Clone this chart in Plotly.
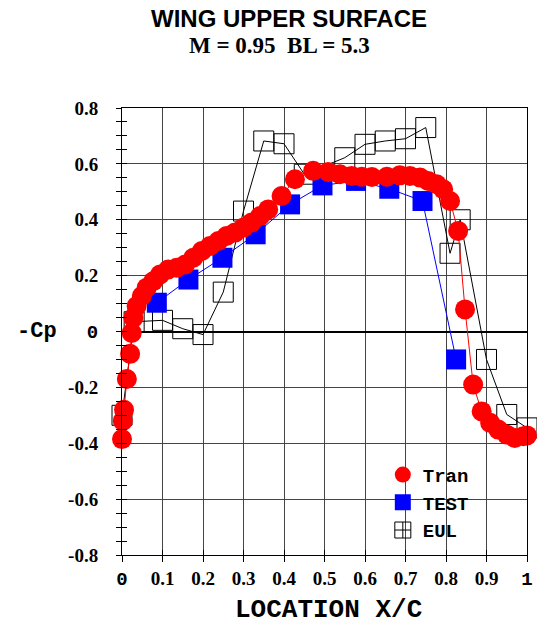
import plotly.graph_objects as go

# Transonic code prediction (Tran)
tran_x = [0.0, 0.002, 0.005, 0.012, 0.02, 0.024, 0.028, 0.036, 0.049, 0.061,
          0.077, 0.094, 0.114, 0.135, 0.156, 0.176, 0.197, 0.217, 0.238, 0.258,
          0.279, 0.30, 0.32, 0.341, 0.361, 0.394, 0.427, 0.472, 0.509, 0.538,
          0.567, 0.592, 0.617, 0.654, 0.686, 0.711, 0.736, 0.756, 0.777, 0.793,
          0.81, 0.83, 0.847, 0.867, 0.888, 0.909, 0.929, 0.95, 0.97, 0.991, 1.0]
tran_y = [-0.385, -0.32, -0.28, -0.17, -0.08, -0.005, 0.049, 0.091, 0.127, 0.157,
          0.18, 0.204, 0.222, 0.228, 0.24, 0.264, 0.288, 0.306, 0.324, 0.342,
          0.354, 0.372, 0.39, 0.413, 0.437, 0.485, 0.545, 0.575, 0.571, 0.563,
          0.557, 0.554, 0.553, 0.554, 0.559, 0.557, 0.551, 0.539, 0.527, 0.509,
          0.467, 0.36, 0.079, -0.19, -0.286, -0.327, -0.351, -0.369, -0.381, -0.375, -0.372]

# Wind tunnel measurements (TEST)
test_x = [0.086, 0.164, 0.248, 0.33, 0.415, 0.495, 0.578, 0.66, 0.742, 0.825]
test_y = [0.103, 0.186, 0.264, 0.348, 0.455, 0.523, 0.539, 0.511, 0.467, -0.1]

# Euler solution (EUL)
eul_x = [0.0, 0.03, 0.1, 0.15, 0.2, 0.25, 0.3, 0.35, 0.4, 0.45,
         0.55, 0.6, 0.65, 0.7, 0.75, 0.81, 0.835, 0.9, 0.95, 1.0]
eul_y = [-0.3, 0.035, 0.04, 0.01, -0.011, 0.141, 0.431, 0.682, 0.672, 0.563,
         0.622, 0.67, 0.682, 0.69, 0.73, 0.28, 0.40, -0.1, -0.297, -0.345]

x_ticks = [0, 0.1, 0.2, 0.3, 0.4, 0.5, 0.6, 0.7, 0.8, 0.9, 1]
x_labels = ["0", "0.1", "0.2", "0.3", "0.4", "0.5", "0.6", "0.7", "0.8", "0.9", "1"]
y_ticks = [-0.8, -0.6, -0.4, -0.2, 0, 0.2, 0.4, 0.6, 0.8]
y_labels = ["-0.8", "-0.6", "-0.4", "-0.2", "0", "0.2", "0.4", "0.6", "0.8"]

SERIF = "Liberation Serif"
MONO = "Liberation Mono"
SANS = "Liberation Sans"


def tick_text(labels):
    # integer labels are set in the monospace face, decimals in bold serif
    out = []
    for s in labels:
        if "." in s:
            out.append(s)
        else:
            out.append('<span style="font-family:%s">%s</span>' % (MONO, s))
    return out


fig = go.Figure()

fig.add_trace(go.Scatter(
    x=eul_x, y=eul_y, mode="lines+markers", name="EUL", showlegend=False,
    line=dict(color="black", width=1),
    marker=dict(symbol="square-open", size=20, color="black", line=dict(width=1)),
    cliponaxis=False))
fig.add_trace(go.Scatter(
    x=test_x, y=test_y, mode="lines+markers", name="TEST", showlegend=False,
    line=dict(color="#0000ff", width=1),
    marker=dict(symbol="square", size=20, color="#0000ff"),
    cliponaxis=False))
fig.add_trace(go.Scatter(
    x=tran_x, y=tran_y, mode="lines+markers", name="Tran", showlegend=False,
    line=dict(color="#ff0000", width=1),
    marker=dict(symbol="circle", size=20, color="#ff0000"),
    cliponaxis=False))

# legend entries (marker only)
fig.add_trace(go.Scatter(x=[None], y=[None], mode="markers", name="Tran",
                         marker=dict(symbol="circle", size=20, color="#ff0000")))
fig.add_trace(go.Scatter(x=[None], y=[None], mode="markers", name="TEST",
                         marker=dict(symbol="square", size=20, color="#0000ff")))
fig.add_trace(go.Scatter(x=[None], y=[None], mode="markers", name="EUL",
                         marker=dict(symbol="square-cross-open", size=20, color="black",
                                     line=dict(width=1))))

# carrier for the inward tick overlay axes
fig.add_trace(go.Scatter(x=[None], y=[None], xaxis="x2", yaxis="y2",
                         showlegend=False, hoverinfo="skip"))

tick_font = dict(family=SERIF, size=19, color="black", weight="bold")

fig.update_layout(
    template="none",
    width=537, height=624,
    margin=dict(l=122, r=10, t=108, b=69),
    paper_bgcolor="white", plot_bgcolor="white",
    showlegend=True,
    legend=dict(x=0.644, y=0.222, xanchor="left", yanchor="top",
                bgcolor="rgba(0,0,0,0)", borderwidth=0,
                font=dict(family=MONO, size=19, color="black", weight="bold"),
                tracegroupgap=0),
    xaxis=dict(range=[0, 1], tickvals=x_ticks, ticktext=tick_text(x_labels),
               tickfont=tick_font, ticks="outside", ticklen=6, tickcolor="black",
               showline=True, linecolor="black", linewidth=1, mirror=True,
               showgrid=True, gridcolor="#444444", gridwidth=1,
               zeroline=False, ticklabelstandoff=0, automargin=False),
    yaxis=dict(range=[-0.8, 0.8], tickvals=y_ticks, ticktext=tick_text(y_labels),
               tickfont=tick_font, ticks="outside", ticklen=5, tickcolor="black",
               minor=dict(dtick=0.05, tick0=0, ticks="outside", ticklen=5,
                          tickcolor="black", showgrid=False),
               showline=True, linecolor="black", linewidth=1, mirror=True,
               showgrid=True, gridcolor="#444444", gridwidth=1,
               zeroline=True, zerolinecolor="black", zerolinewidth=2,
               ticklabelstandoff=14, automargin=False),
    xaxis2=dict(range=[0, 1], overlaying="x", anchor="y2", side="bottom",
                dtick=0.1, tick0=0, ticks="inside", ticklen=5, tickcolor="black",
                showticklabels=False, showgrid=False, zeroline=False, showline=False,
                automargin=False),
    yaxis2=dict(range=[-0.8, 0.8], overlaying="y", anchor="x2", side="left",
                dtick=0.05, tick0=0, ticks="inside", ticklen=5, tickcolor="black",
                showticklabels=False, showgrid=False, zeroline=False, showline=False,
                automargin=False),
    annotations=[
        dict(text="WING UPPER SURFACE", xref="paper", yref="paper",
             x=0.412, y=1.201, xanchor="center", yanchor="middle", showarrow=False,
             font=dict(family=SANS, size=24, color="black", weight="bold")),
        dict(text="M = 0.95&nbsp;&nbsp;BL = 5.3", xref="paper", yref="paper",
             x=0.388, y=1.139, xanchor="center", yanchor="middle", showarrow=False,
             font=dict(family=SERIF, size=23, color="black", weight="bold")),
        dict(text="-Cp", xref="paper", yref="paper",
             x=-0.21, y=0.5, xanchor="center", yanchor="middle", showarrow=False,
             font=dict(family=MONO, size=22, color="black", weight="bold")),
        dict(text="LOCATION X/C", xref="paper", yref="paper",
             x=0.511, y=-0.123, xanchor="center", yanchor="middle", showarrow=False,
             font=dict(family=MONO, size=26, color="black", weight="bold")),
    ],
)

fig.write_html("out.html")
